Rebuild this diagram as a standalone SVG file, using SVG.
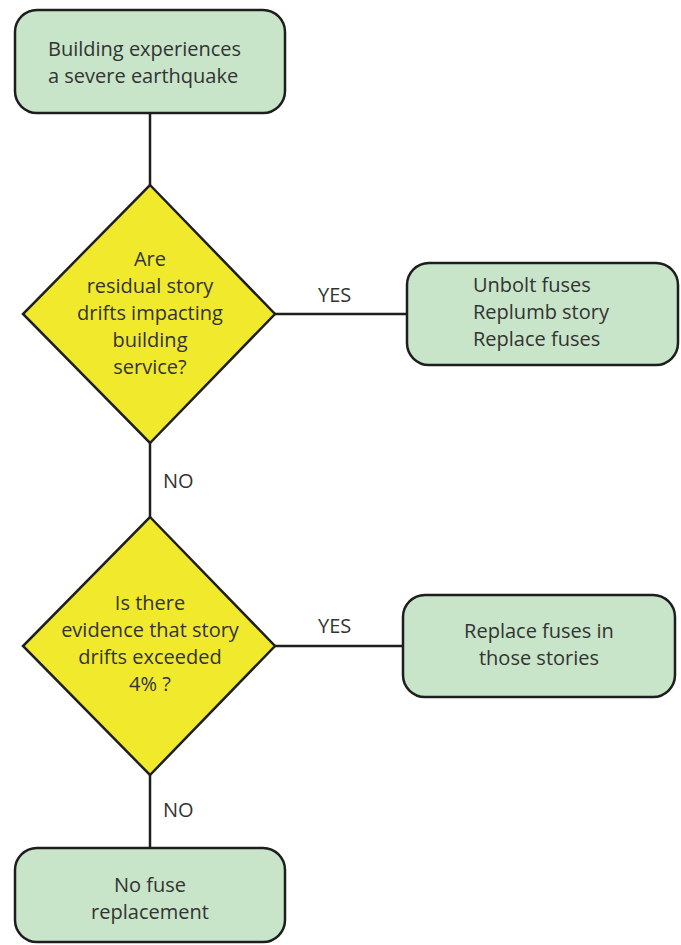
<svg xmlns="http://www.w3.org/2000/svg" width="681" height="945" viewBox="0 0 681 945">
<style>
.box{fill:#c8e5c9;stroke:#1e1e1e;stroke-width:2.5}
.dia{fill:#f1ea2c;stroke:#1e1e1e;stroke-width:2.5}
.ln{stroke:#1e1e1e;stroke-width:2.5;fill:none}
text{font-family:"Open Sans","Liberation Sans",sans-serif;font-size:20px;fill:#333}
.c{text-anchor:middle}
</style>
<rect width="681" height="945" fill="#fff"/>
<g id="connectors">
<line class="ln" x1="150" y1="113" x2="150" y2="185"/>
<line class="ln" x1="275" y1="314" x2="407" y2="314"/>
<line class="ln" x1="150" y1="443" x2="150" y2="517"/>
<line class="ln" x1="275" y1="646" x2="403" y2="646"/>
<line class="ln" x1="150" y1="775" x2="150" y2="848"/>
<text x="318" y="302">YES</text>
<text x="318" y="633">YES</text>
<text x="163" y="488">NO</text>
<text x="163" y="817">NO</text>
</g>
<g id="start">
<rect class="box" x="15" y="10" width="270" height="103" rx="22"/>
<text x="48" y="56">Building experiences</text>
<text x="48" y="83">a severe earthquake</text>
</g>
<g id="decision1">
<polygon class="dia" points="150,185 275,314 150,443 23,314"/>
<text class="c" x="150" y="266">Are</text>
<text class="c" x="150" y="293">residual story</text>
<text class="c" x="150" y="320">drifts impacting</text>
<text class="c" x="150" y="347">building</text>
<text class="c" x="150" y="374">service?</text>
</g>
<g id="replumb">
<rect class="box" x="407" y="263" width="271" height="102" rx="22"/>
<text x="473" y="292">Unbolt fuses</text>
<text x="473" y="319">Replumb story</text>
<text x="473" y="346">Replace fuses</text>
</g>
<g id="decision2">
<polygon class="dia" points="150,517 275,646 150,775 23,646"/>
<text class="c" x="150" y="610">Is there</text>
<text class="c" x="150" y="637">evidence that story</text>
<text class="c" x="150" y="664">drifts exceeded</text>
<text class="c" x="150" y="691">4% ?</text>
</g>
<g id="replace">
<rect class="box" x="403" y="595" width="272" height="102" rx="22"/>
<text class="c" x="539" y="638">Replace fuses in</text>
<text class="c" x="539" y="665">those stories</text>
</g>
<g id="none">
<rect class="box" x="15" y="848" width="270" height="94" rx="22"/>
<text class="c" x="150" y="892">No fuse</text>
<text class="c" x="150" y="919">replacement</text>
</g>
</svg>
